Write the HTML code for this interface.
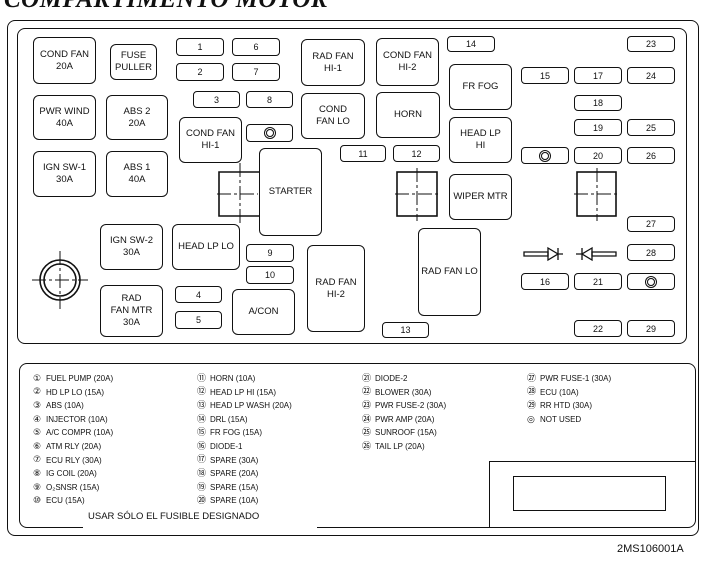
<!DOCTYPE html>
<html><head><meta charset="utf-8"><style>
body{margin:0;width:725px;height:572px;background:#fff;position:relative;overflow:hidden;font-family:"Liberation Sans",sans-serif;color:#111}
.b{position:absolute;border:1.6px solid #111;border-radius:6px;box-sizing:border-box;display:flex;align-items:center;justify-content:center;text-align:center;font-size:9.5px;line-height:12px}
.f{border-radius:4px;font-size:9px}
.t{position:absolute;font-size:8px;white-space:nowrap}
.t div{height:13.6px;line-height:13.6px;overflow:visible}
.c{display:inline-block;width:13px;font-family:"DejaVu Sans","Noto Sans CJK JP",sans-serif;font-size:9px;line-height:10px;vertical-align:middle}
.o{display:inline-block;width:6px;height:6px;border:1.5px solid #111;border-radius:50%;box-shadow:0 0 0 1px #fff,0 0 0 2px #111}
</style></head><body>
<div style="position:absolute;left:4px;top:-14px;font:italic bold 25px 'Liberation Serif',serif;letter-spacing:0.5px">COMPARTIMENTO MOTOR</div>
<div style="position:absolute;left:7px;top:20px;width:692px;height:516px;border:1.8px solid #111;border-radius:8px;box-sizing:border-box"></div>
<div style="position:absolute;left:17px;top:28px;width:670px;height:316px;border:1.8px solid #111;border-radius:8px;box-sizing:border-box"></div>
<div style="position:absolute;left:19px;top:363px;width:677px;height:165px;border:1.8px solid #111;border-radius:8px;box-sizing:border-box"></div>
<div style="position:absolute;left:83px;top:524px;width:234px;height:6px;background:#fff"></div>
<div style="position:absolute;left:489px;top:461px;width:207px;height:67px;border-top:1.8px solid #111;border-left:1.8px solid #111;box-sizing:border-box"></div>
<div style="position:absolute;left:513px;top:476px;width:153px;height:35px;border:1.8px solid #111;box-sizing:border-box"></div>
<div class="t" style="left:88px;top:511px;font-size:9.5px">USAR SÓLO EL FUSIBLE DESIGNADO</div>
<div class="t" style="left:617px;top:543px;font-size:11px">2MS106001A</div>

<div class="b" style="left:33px;top:37px;width:63px;height:47px">COND FAN<br>20A</div>
<div class="b" style="left:110px;top:44px;width:47px;height:36px">FUSE<br>PULLER</div>
<div class="b f" style="left:176px;top:38px;width:48px;height:18px">1</div>
<div class="b f" style="left:232px;top:38px;width:48px;height:18px">6</div>
<div class="b f" style="left:176px;top:63px;width:48px;height:18px">2</div>
<div class="b f" style="left:232px;top:63px;width:48px;height:18px">7</div>
<div class="b f" style="left:193px;top:91px;width:47px;height:17px">3</div>
<div class="b f" style="left:246px;top:91px;width:47px;height:17px">8</div>
<div class="b" style="left:301px;top:39px;width:64px;height:47px">RAD FAN<br>HI-1</div>
<div class="b" style="left:33px;top:95px;width:63px;height:45px">PWR WIND<br>40A</div>
<div class="b" style="left:106px;top:95px;width:62px;height:45px">ABS 2<br>20A</div>
<div class="b" style="left:179px;top:117px;width:63px;height:46px">COND FAN<br>HI-1</div>
<div class="b f" style="left:246px;top:124px;width:47px;height:18px"><span class="o"></span></div>
<div class="b" style="left:301px;top:93px;width:64px;height:46px">COND<br>FAN LO</div>
<div class="b" style="left:33px;top:151px;width:63px;height:46px">IGN SW-1<br>30A</div>
<div class="b" style="left:106px;top:151px;width:62px;height:46px">ABS 1<br>40A</div>
<div class="b" style="left:259px;top:148px;width:63px;height:88px">STARTER</div>
<div class="b" style="left:100px;top:224px;width:63px;height:46px">IGN SW-2<br>30A</div>
<div class="b" style="left:172px;top:224px;width:68px;height:46px">HEAD LP LO</div>
<div class="b f" style="left:246px;top:244px;width:48px;height:18px">9</div>
<div class="b f" style="left:246px;top:266px;width:48px;height:18px">10</div>
<div class="b" style="left:307px;top:245px;width:58px;height:87px">RAD FAN<br>HI-2</div>
<div class="b f" style="left:175px;top:286px;width:47px;height:17px">4</div>
<div class="b f" style="left:175px;top:311px;width:47px;height:18px">5</div>
<div class="b" style="left:232px;top:289px;width:63px;height:46px">A/CON</div>
<div class="b" style="left:100px;top:285px;width:63px;height:52px">RAD<br>FAN MTR<br>30A</div>

<div class="b" style="left:376px;top:38px;width:63px;height:48px">COND FAN<br>HI-2</div>
<div class="b" style="left:376px;top:92px;width:64px;height:46px">HORN</div>
<div class="b f" style="left:447px;top:36px;width:48px;height:16px">14</div>
<div class="b" style="left:449px;top:64px;width:63px;height:46px">FR FOG</div>
<div class="b" style="left:449px;top:117px;width:63px;height:46px">HEAD LP<br>HI</div>
<div class="b" style="left:449px;top:174px;width:63px;height:46px">WIPER MTR</div>
<div class="b f" style="left:340px;top:145px;width:46px;height:17px">11</div>
<div class="b f" style="left:393px;top:145px;width:47px;height:17px">12</div>
<div class="b" style="left:418px;top:228px;width:63px;height:88px">RAD FAN LO</div>
<div class="b f" style="left:382px;top:322px;width:47px;height:16px">13</div>
<div class="b f" style="left:627px;top:36px;width:48px;height:16px">23</div>
<div class="b f" style="left:521px;top:67px;width:48px;height:17px">15</div>
<div class="b f" style="left:574px;top:67px;width:48px;height:17px">17</div>
<div class="b f" style="left:627px;top:67px;width:48px;height:17px">24</div>
<div class="b f" style="left:574px;top:95px;width:48px;height:16px">18</div>
<div class="b f" style="left:574px;top:119px;width:48px;height:17px">19</div>
<div class="b f" style="left:627px;top:119px;width:48px;height:17px">25</div>
<div class="b f" style="left:521px;top:147px;width:48px;height:17px"><span class="o"></span></div>
<div class="b f" style="left:574px;top:147px;width:48px;height:17px">20</div>
<div class="b f" style="left:627px;top:147px;width:48px;height:17px">26</div>
<div class="b f" style="left:627px;top:216px;width:48px;height:16px">27</div>
<div class="b f" style="left:627px;top:244px;width:48px;height:17px">28</div>
<div class="b f" style="left:521px;top:273px;width:48px;height:17px">16</div>
<div class="b f" style="left:574px;top:273px;width:48px;height:17px">21</div>
<div class="b f" style="left:627px;top:273px;width:48px;height:17px"><span class="o"></span></div>
<div class="b f" style="left:574px;top:320px;width:48px;height:17px">22</div>
<div class="b f" style="left:627px;top:320px;width:48px;height:17px">29</div>

<svg style="position:absolute;left:0;top:0" width="725" height="572" fill="none" stroke="#111">
<g stroke-width="1.6"><path d="M259 172H219V216H259"/><rect x="397" y="172" width="40" height="44"/><rect x="577" y="172" width="39" height="44"/>
<circle cx="60" cy="280" r="20"/><circle cx="60" cy="280" r="16"/></g>
<g stroke-width="1" stroke-dasharray="14,3,3,3">
<path d="M217 194H258M240 163V226"/><path d="M395 194H440M417 168V221"/><path d="M574 194H620M597 168V221"/><path d="M32 280H88M60 251V309"/></g>
<g stroke-width="1.3"><path d="M524 252H548V256H524Z"/><path d="M548 248L558 254L548 260Z"/><path d="M558 248V260M558 254H563"/>
<path d="M616 252H592V256H616Z"/><path d="M592 248L582 254L592 260Z"/><path d="M582 248V260M582 254H576"/></g>
</svg>

<div class="t" style="left:33px;top:372px">
<div><span class="c">①</span>FUEL PUMP (20A)</div><div><span class="c">②</span>HD LP LO (15A)</div><div><span class="c">③</span>ABS (10A)</div><div><span class="c">④</span>INJECTOR (10A)</div><div><span class="c">⑤</span>A/C COMPR (10A)</div><div><span class="c">⑥</span>ATM RLY (20A)</div><div><span class="c">⑦</span>ECU RLY (30A)</div><div><span class="c">⑧</span>IG COIL (20A)</div><div><span class="c">⑨</span>O₂SNSR (15A)</div><div><span class="c">⑩</span>ECU (15A)</div></div>
<div class="t" style="left:197px;top:372px">
<div><span class="c">⑪</span>HORN (10A)</div><div><span class="c">⑫</span>HEAD LP HI (15A)</div><div><span class="c">⑬</span>HEAD LP WASH (20A)</div><div><span class="c">⑭</span>DRL (15A)</div><div><span class="c">⑮</span>FR FOG (15A)</div><div><span class="c">⑯</span>DIODE-1</div><div><span class="c">⑰</span>SPARE (30A)</div><div><span class="c">⑱</span>SPARE (20A)</div><div><span class="c">⑲</span>SPARE (15A)</div><div><span class="c">⑳</span>SPARE (10A)</div></div>
<div class="t" style="left:362px;top:372px">
<div><span class="c">㉑</span>DIODE-2</div><div><span class="c">㉒</span>BLOWER (30A)</div><div><span class="c">㉓</span>PWR FUSE-2 (30A)</div><div><span class="c">㉔</span>PWR AMP (20A)</div><div><span class="c">㉕</span>SUNROOF (15A)</div><div><span class="c">㉖</span>TAIL LP (20A)</div></div>
<div class="t" style="left:527px;top:372px">
<div><span class="c">㉗</span>PWR FUSE-1 (30A)</div><div><span class="c">㉘</span>ECU (10A)</div><div><span class="c">㉙</span>RR HTD (30A)</div><div><span class="c">◎</span>NOT USED</div></div>
</body></html>
